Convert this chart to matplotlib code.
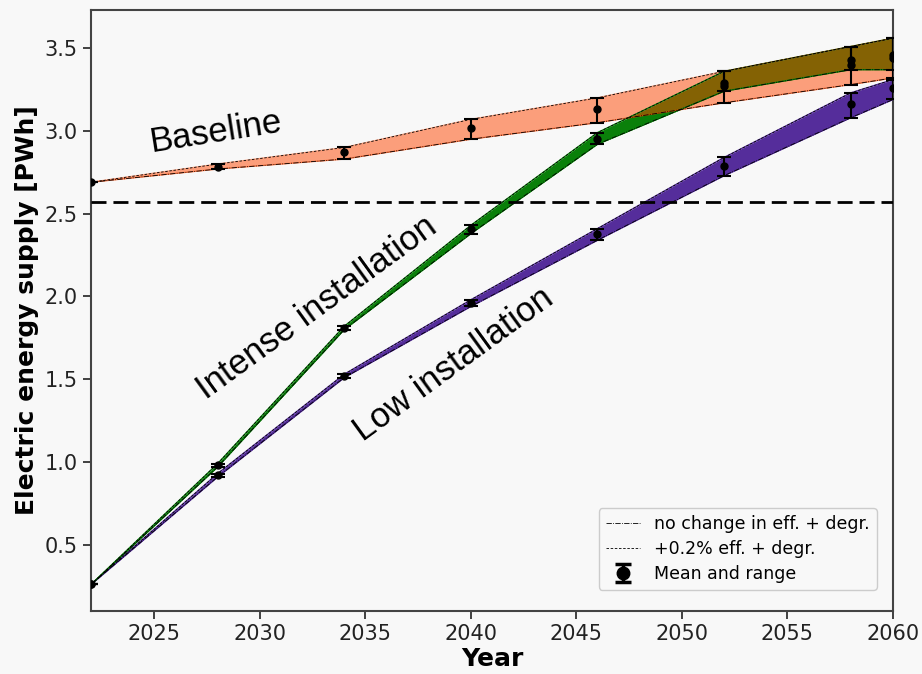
import matplotlib
matplotlib.use('Agg')
import matplotlib.pyplot as plt
from matplotlib.lines import Line2D
import numpy as np

years = [2022, 2028, 2034, 2040, 2046, 2052, 2058, 2060]

# Baseline scenario [PWh]
base_lo = [2.69, 2.77, 2.83, 2.95, 3.05, 3.17, 3.28, 3.32]
base_hi = [2.69, 2.80, 2.90, 3.07, 3.20, 3.36, 3.51, 3.56]
base_mean = [2.69, 2.785, 2.87, 3.02, 3.13, 3.27, 3.43, 3.46]

# Intense installation scenario [PWh]
int_lo = [0.26, 0.97, 1.80, 2.38, 2.92, 3.24, 3.37, 3.37]
int_hi = [0.26, 0.99, 1.82, 2.43, 2.99, 3.36, 3.51, 3.56]
int_mean = [0.26, 0.98, 1.81, 2.41, 2.95, 3.29, 3.40, 3.44]

# Low installation scenario [PWh]
low_lo = [0.26, 0.91, 1.51, 1.94, 2.34, 2.73, 3.08, 3.19]
low_hi = [0.26, 0.93, 1.53, 1.98, 2.41, 2.84, 3.23, 3.31]
low_mean = [0.26, 0.92, 1.52, 1.96, 2.38, 2.79, 3.16, 3.26]

demand_2022 = 2.57

bg = '#f8f8f8'
fig = plt.figure(figsize=(9.22, 6.74), dpi=100, facecolor=bg)
ax = fig.add_axes([0.0987, 0.0935, 0.8698, 0.8915], facecolor=bg)


def draw_band(lo, hi, mean, color, alpha=1.0):
    ax.fill_between(years, lo, hi, color=color, alpha=alpha, lw=0, zorder=2)
    ax.plot(years, lo, color=color, lw=1.0, alpha=alpha, zorder=3)
    ax.plot(years, hi, color=color, lw=1.0, alpha=alpha, zorder=3)
    ax.plot(years, lo, color='k', lw=0.6, ls='-.', zorder=4)
    ax.plot(years, hi, color='k', lw=0.6, ls='--', dashes=(3, 2), zorder=4)
    m = np.array(mean)
    err = [m - np.array(lo), np.array(hi) - m]
    ax.errorbar(years, mean, yerr=err, fmt='o', color='k', ms=5,
                capsize=5, elinewidth=1.5, capthick=1.5, zorder=6)


draw_band(low_lo, low_hi, low_mean, '#552d9b')
draw_band(int_lo, int_hi, int_mean, '#0a800a')
draw_band(base_lo, base_hi, base_mean, 'orangered', alpha=0.5)

ax.axhline(demand_2022, color='k', lw=2, ls='--', dashes=(5.4, 2.5),
           zorder=5)

txt = dict(family='Liberation Sans', fontsize=25, ha='center', va='center',
           rotation_mode='anchor')
ax.text(2027.9, 2.99, 'Baseline', rotation=9, **txt)
ax.text(2032.7, 1.93, 'Intense installation', rotation=36, **txt)
ax.text(2039.2, 1.59, 'Low installation', rotation=36, **txt)

ax.set_xlim(2022, 2060)
ax.set_ylim(0.10, 3.73)
ax.set_xticks(np.arange(2025, 2061, 5))
ax.set_yticks(np.arange(0.5, 3.51, 0.5))
ax.tick_params(labelsize=15, length=6, width=1.2, colors='#222222')
for s in ax.spines.values():
    s.set_color('#444444')
    s.set_linewidth(1.5)

ax.set_xlabel('Year', fontsize=18, fontweight='bold', labelpad=2)
ax.set_ylabel('Electric energy supply [PWh]', fontsize=18, fontweight='bold',
              labelpad=4)

# larger marker for the legend entry only
key = ax.errorbar([np.nan], [np.nan], yerr=[[0.1], [0.1]], fmt='o',
                  color='k', ms=9, capsize=6, elinewidth=2.5, capthick=2.5)
handles = [
    Line2D([], [], color='k', lw=0.6, ls='-.'),
    Line2D([], [], color='k', lw=0.6, ls='--', dashes=(3, 2)),
    key,
]
labels = ['no change in eff. + degr.', '+0.2% eff. + degr.', 'Mean and range']
ax.legend(handles, labels, loc='lower right', fontsize=12.5,
          bbox_to_anchor=(0.980, 0.035), borderaxespad=0,
          labelspacing=0.4, framealpha=1, facecolor=bg, edgecolor='#cccccc')

fig.savefig('out.png', dpi=100, facecolor=bg)
